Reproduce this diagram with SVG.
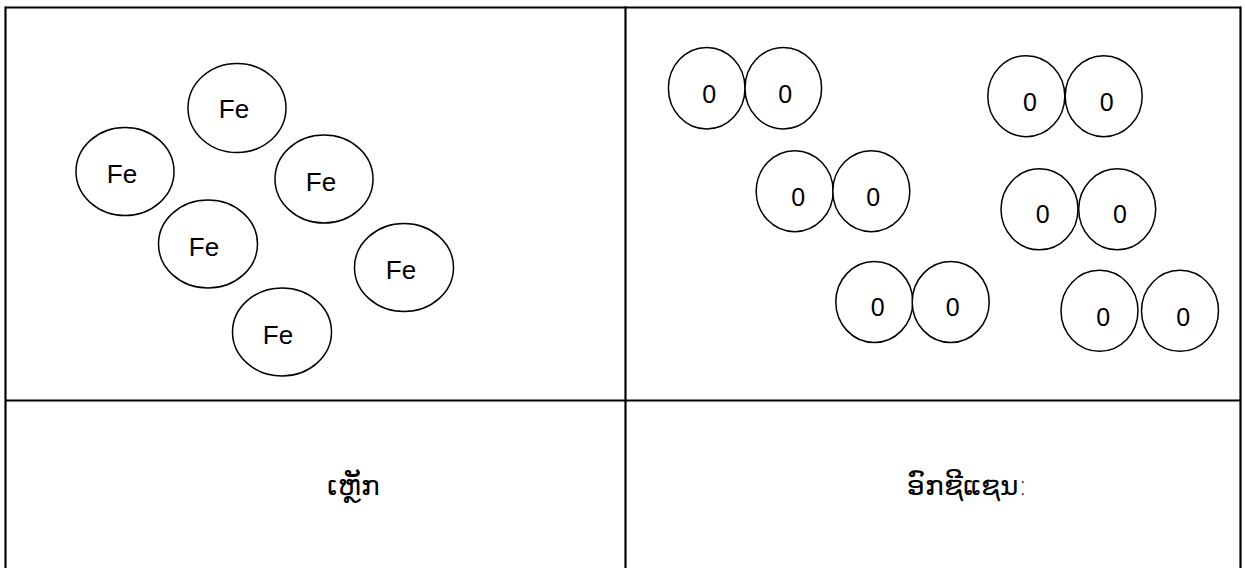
<svg xmlns="http://www.w3.org/2000/svg" width="1245" height="568" viewBox="0 0 1245 568">
<style>
.grid{stroke:#000;stroke-width:2.2;fill:none}
.at{fill:#fff;stroke:#000;stroke-width:1.5}
.fe{font-family:"Liberation Sans",Arial,sans-serif;font-size:26px;fill:#000;text-anchor:middle}
.o{font-family:"Liberation Sans",Arial,sans-serif;font-size:25px;fill:#000;text-anchor:middle}
.lao{font-family:"DejaVu Sans","Noto Sans",sans-serif;font-size:28px;font-weight:300;fill:#000}
</style>
<rect width="1245" height="568" fill="#fff"/>
<g id="table">
<line class="grid" x1="5" y1="7.5" x2="1241" y2="7.5"/>
<line class="grid" x1="5.5" y1="6.5" x2="5.5" y2="568"/>
<line class="grid" x1="1240.5" y1="6.5" x2="1240.5" y2="568"/>
<line class="grid" x1="625.5" y1="6.5" x2="625.5" y2="568"/>
<line class="grid" x1="5" y1="400.5" x2="1241" y2="400.5"/>
</g>
<g id="fe1"><ellipse class="at" cx="237" cy="108" rx="49" ry="44.5"/><text class="fe" x="234" y="118">Fe</text></g>
<g id="fe2"><ellipse class="at" cx="125" cy="171.5" rx="49" ry="44"/><text class="fe" x="122" y="183">Fe</text></g>
<g id="fe3"><ellipse class="at" cx="324" cy="179" rx="49" ry="44"/><text class="fe" x="321" y="191">Fe</text></g>
<g id="fe4"><ellipse class="at" cx="208" cy="244" rx="49.5" ry="44"/><text class="fe" x="204" y="256">Fe</text></g>
<g id="fe5"><ellipse class="at" cx="404" cy="267.5" rx="49.5" ry="44"/><text class="fe" x="401" y="279">Fe</text></g>
<g id="fe6"><ellipse class="at" cx="282" cy="332" rx="49.5" ry="44"/><text class="fe" x="278" y="344">Fe</text></g>
<g id="o2a"><ellipse class="at" cx="706.7" cy="88.2" rx="38.3" ry="40.8"/><ellipse class="at" cx="783.3" cy="88.2" rx="38.3" ry="40.8"/><text class="o" x="709.3" y="103.3">0</text><text class="o" x="785.3" y="103.3">0</text></g>
<g id="o2b"><ellipse class="at" cx="1026.3" cy="96.2" rx="38.5" ry="40.5"/><ellipse class="at" cx="1103.7" cy="96.2" rx="38.5" ry="40.5"/><text class="o" x="1030" y="110.5">0</text><text class="o" x="1106.7" y="110.5">0</text></g>
<g id="o2c"><ellipse class="at" cx="794.7" cy="191.2" rx="38.5" ry="40.5"/><ellipse class="at" cx="871.3" cy="191.2" rx="38.5" ry="40.5"/><text class="o" x="798.3" y="205.7">0</text><text class="o" x="873.3" y="205.7">0</text></g>
<g id="o2d"><ellipse class="at" cx="1039.5" cy="209.3" rx="38.5" ry="40.5"/><ellipse class="at" cx="1117.2" cy="209.3" rx="38.5" ry="40.5"/><text class="o" x="1042.7" y="223.3">0</text><text class="o" x="1120" y="223.3">0</text></g>
<g id="o2e"><ellipse class="at" cx="874.3" cy="302" rx="38.5" ry="40.5"/><ellipse class="at" cx="950.7" cy="302" rx="38.5" ry="40.5"/><text class="o" x="877.7" y="316">0</text><text class="o" x="952.7" y="316">0</text></g>
<g id="o2f"><ellipse class="at" cx="1099.5" cy="310.8" rx="38.5" ry="40.5"/><ellipse class="at" cx="1180" cy="310.8" rx="38.5" ry="40.5"/><text class="o" x="1103.3" y="326">0</text><text class="o" x="1183.3" y="326">0</text></g>
<g id="labels">
<text class="lao" x="327" y="495">ເຫຼັກ</text>
<text class="lao" x="907" y="495">ອົກຊີແຊນ:</text>
</g>
</svg>
